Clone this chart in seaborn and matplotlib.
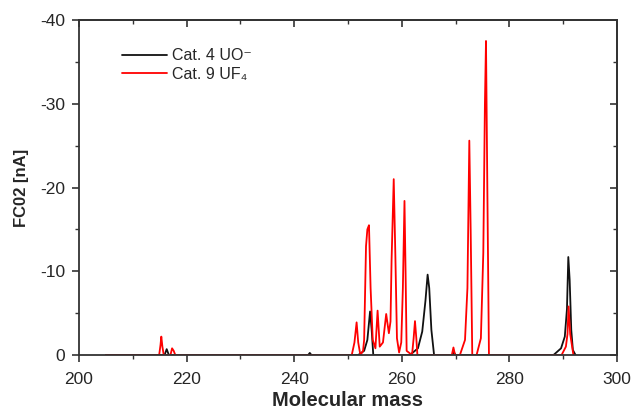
import matplotlib
matplotlib.use("Agg")
import matplotlib.pyplot as plt
import seaborn as sns
import pandas as pd
import numpy as np

# traced spectrum points (mass, FC02 current in nA)
mass_uo = [205.0, 215.9, 216.3, 216.7, 242.6, 242.9, 243.2, 251.9, 253.0, 253.6,
           254.1, 254.4, 254.7, 261.5, 263.0, 263.8, 264.4, 264.8, 265.1, 265.5,
           266.0, 269.4, 269.7, 270.0, 288.2, 289.6, 290.3, 290.7, 290.95, 291.2,
           291.5, 291.8, 292.3]
curr_uo = [0.0, 0.0, -0.7, 0.0, 0.0, -0.25, 0.0, 0.0, -0.5, -1.8,
           -5.2, -3.0, 0.0, 0.0, -0.8, -2.8, -6.5, -9.6, -8.0, -3.0,
           0.0, 0.0, -0.3, 0.0, 0.0, -0.8, -2.2, -5.5, -11.7, -9.0,
           -3.0, -0.6, 0.0]

mass_uf4 = [205.0, 214.9, 215.15, 215.3, 215.5, 215.75, 217.0, 217.3, 217.6, 217.9,
            250.7, 251.2, 251.6, 251.9, 252.3, 252.8, 253.0, 253.35, 253.6, 253.9,
            254.2, 254.6, 255.1, 255.5, 255.9, 256.5, 257.1, 257.4, 257.6, 257.9,
            258.1, 258.5, 258.8, 259.1, 259.5, 259.9, 260.2, 260.5, 260.7, 260.9,
            261.9, 262.2, 262.45, 262.7, 262.9, 269.3, 269.6, 269.9, 270.8, 271.75,
            272.2, 272.55, 272.8, 273.1, 273.9, 274.7, 275.15, 275.45, 275.65, 275.9,
            276.2, 289.7, 290.5, 290.8, 291.0, 291.3, 291.9]
curr_uf4 = [0.0, 0.0, -1.2, -2.2, -1.0, 0.0, 0.0, -0.8, -0.5, 0.0,
            0.0, -1.5, -3.9, -1.5, 0.0, -0.5, -1.8, -13.0, -15.0, -15.5,
            -8.0, -1.8, -0.8, -5.3, -1.0, -1.5, -4.9, -3.5, -2.6, -4.0,
            -11.3, -21.0, -12.0, -2.0, -0.3, -1.5, -8.0, -18.4, -10.0, -0.5,
            0.0, -2.0, -4.05, -2.0, 0.0, 0.0, -0.9, 0.0, 0.0, -1.8,
            -8.0, -25.6, -15.0, 0.0, 0.0, -2.0, -12.2, -30.0, -37.5, -20.0,
            0.0, 0.0, -1.0, -2.5, -5.8, -2.5, 0.0]

labels = ["Cat. 4 UO\u207b", "Cat. 9 UF\u2084"]

df = pd.concat([
    pd.DataFrame({"mass": mass_uo, "fc02": curr_uo, "series": labels[0]}),
    pd.DataFrame({"mass": mass_uf4, "fc02": curr_uf4, "series": labels[1]}),
])

sns.set_style("ticks")
plt.rcParams["font.family"] = ["Liberation Sans", "DejaVu Sans"]
plt.rcParams["axes.unicode_minus"] = False

fig = plt.figure(figsize=(6.31, 4.09), dpi=100)
ax = fig.add_axes([0.1252, 0.132, 0.8526, 0.819])

sns.lineplot(data=df, x="mass", y="fc02", hue="series", hue_order=labels,
             palette=["#111111", "#ff0000"], estimator=None, sort=False,
             linewidth=1.3, ax=ax)

ax.set_xlim(200, 300)
ax.set_ylim(0, -40)
ax.set_xticks(np.arange(200, 301, 20))
ax.set_xticks(np.arange(200, 301, 10), minor=True)
ax.set_yticks(np.arange(0, -41, -10))
ax.set_yticks(np.arange(0, -41, -5), minor=True)
ax.tick_params(which="both", bottom=True, left=True, top=False, right=False,
               direction="out", color="#333333")
ax.tick_params(which="major", length=5, width=1.2, labelsize=12.5)
ax.tick_params(which="minor", length=3, width=1.0)
ax.tick_params(axis="x", which="major", pad=7)
ax.tick_params(axis="y", which="major", pad=5)

# mirrored ticks pointing inward on top and right
secx = ax.secondary_xaxis("top")
secx.set_xticks(np.arange(200, 301, 20))
secx.set_xticks(np.arange(200, 301, 10), minor=True)
secx.tick_params(which="both", top=True, direction="in", labeltop=False, color="#333333")
secx.tick_params(which="major", length=5, width=1.2)
secx.tick_params(which="minor", length=3, width=1.0)
secy = ax.secondary_yaxis("right")
secy.set_yticks(np.arange(0, -41, -10))
secy.set_yticks(np.arange(0, -41, -5), minor=True)
secy.tick_params(which="both", right=True, direction="in", labelright=False, color="#333333")
secy.tick_params(which="major", length=5, width=1.2)
secy.tick_params(which="minor", length=3, width=1.0)
for s in list(ax.spines.values()) + [secx.spines["top"], secy.spines["right"]]:
    s.set_visible(True)
    s.set_color("#333333")
    s.set_linewidth(1.3)

ax.set_xlabel("Molecular mass", fontsize=14.5, fontweight="bold", labelpad=3)
ax.set_ylabel("FC02 [nA]", fontsize=12, fontweight="bold", labelpad=8)

leg = ax.legend(loc="upper left", bbox_to_anchor=(0.068, 0.935), frameon=False,
                fontsize=11.5, handlelength=2.8, handletextpad=0.33,
                labelspacing=0.22, borderaxespad=0)

fig.savefig("out.png", dpi=100)
